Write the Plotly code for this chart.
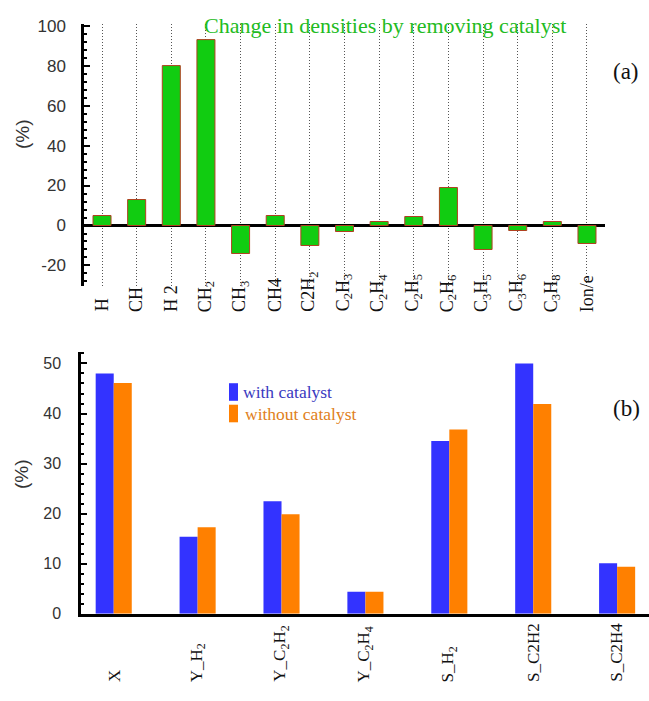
import plotly.graph_objects as go

# ---- data: panel (a) ----
species = ["H", "CH", "H 2", "CH<sub>2</sub>", "CH<sub>3</sub>", "CH4", "C2H<sub>2</sub>",
           "C<sub>2</sub>H<sub>3</sub>", "C<sub>2</sub>H<sub>4</sub>", "C<sub>2</sub>H<sub>5</sub>",
           "C<sub>2</sub>H<sub>6</sub>", "C<sub>3</sub>H<sub>5</sub>", "C<sub>3</sub>H<sub>6</sub>",
           "C<sub>3</sub>H<sub>8</sub>", "Ion/e"]
density_change = [5, 13, 80, 93, -14, 5, -10, -3, 2, 4.5, 19, -12, -2.5, 2, -9]

# ---- data: panel (b) ----
quantities = ["X", "Y_H<sub>2</sub>", "Y_C<sub>2</sub>H<sub>2</sub>", "Y_C<sub>2</sub>H<sub>4</sub>",
              "S_H<sub>2</sub>", "S_C2H2", "S_C2H4"]
with_catalyst = [48.0, 15.4, 22.5, 4.4, 34.5, 50.0, 10.1]
without_catalyst = [46.1, 17.3, 19.9, 4.4, 36.8, 41.9, 9.4]

W, H = 649, 701
def px(y):
    return 1 - y / H

SERIF = "Liberation Serif, Times New Roman, serif"
SANS = "Liberation Sans, Arial, sans-serif"

fig = go.Figure()
xa = list(range(len(species)))
fig.add_trace(go.Bar(x=xa, y=density_change, width=0.52,
                     marker=dict(color="#11cc11", line=dict(color="#b04020", width=1)),
                     xaxis="x", yaxis="y", showlegend=False))
xb = list(range(len(quantities)))
fig.add_trace(go.Bar(x=xb, y=with_catalyst, name="with catalyst",
                     marker=dict(color="#3333ff", line=dict(width=0)),
                     xaxis="x2", yaxis="y2", showlegend=False))
fig.add_trace(go.Bar(x=xb, y=without_catalyst, name="without catalyst",
                     marker=dict(color="#ff8000", line=dict(width=0)),
                     xaxis="x2", yaxis="y2", showlegend=False))

annotations = []
for i, lab in enumerate(species):
    annotations.append(dict(x=i, y=px(314), xref="x", yref="paper", text=lab, textangle=-90,
                            xanchor="center", yanchor="bottom", showarrow=False,
                            font=dict(family=SERIF, size=18, color="#111")))
for i, lab in enumerate(quantities):
    annotations.append(dict(x=i, y=px(693), xref="x2", yref="paper", text=lab, textangle=-90,
                            xanchor="center", yanchor="bottom", showarrow=False,
                            font=dict(family=SERIF, size=17, color="#111")))

annotations += [
    dict(x=385 / W, y=px(19), xref="paper", yref="paper", text="Change in densities by removing catalyst",
         showarrow=False, xanchor="center", yanchor="middle",
         font=dict(family=SERIF, size=22, color="#22bb22")),
    dict(x=626 / W, y=px(66), xref="paper", yref="paper", text="(a)", showarrow=False,
         xanchor="center", yanchor="middle", font=dict(family=SERIF, size=23, color="#111")),
    dict(x=626 / W, y=px(411), xref="paper", yref="paper", text="(b)", showarrow=False,
         xanchor="center", yanchor="middle", font=dict(family=SERIF, size=23, color="#111")),
    dict(x=22 / W, y=px(130), xref="paper", yref="paper", text="(%)", textangle=-90, showarrow=False,
         xanchor="center", yanchor="middle", font=dict(family=SANS, size=19, color="#333")),
    dict(x=21 / W, y=px(478), xref="paper", yref="paper", text="(%)", textangle=-90, showarrow=False,
         xanchor="center", yanchor="middle", font=dict(family=SANS, size=19, color="#333")),
    dict(x=241 / W, y=px(394), xref="paper", yref="paper", text="with catalyst", showarrow=False,
         xanchor="left", yanchor="middle", font=dict(family=SERIF, size=17.5, color="#3a3ac0")),
    dict(x=243 / W, y=px(416), xref="paper", yref="paper", text="without catalyst", showarrow=False,
         xanchor="left", yanchor="middle", font=dict(family=SERIF, size=17.5, color="#e08020")),
]

shapes = [
    dict(type="rect", xref="paper", yref="paper", x0=229 / W, x1=238 / W, y0=px(403), y1=px(385),
         fillcolor="#3333ff", line=dict(width=0)),
    dict(type="rect", xref="paper", yref="paper", x0=229 / W, x1=238 / W, y0=px(425), y1=px(407),
         fillcolor="#ff8000", line=dict(width=0)),
]

fig.update_layout(
    width=W, height=H, margin=dict(l=0, r=0, t=0, b=0), autosize=False,
    paper_bgcolor="white", plot_bgcolor="white",
    barmode="group", bargap=0.57, bargroupgap=0,
    annotations=annotations, shapes=shapes,
    xaxis=dict(domain=[84 / W, 605 / W], anchor="y", range=[-0.52, 14.52],
               showticklabels=False, ticks="", showline=False, zeroline=False,
               showgrid=True, gridcolor="#555", gridwidth=1, griddash="1px,2px",
               tickmode="array", tickvals=xa),
    yaxis=dict(domain=[px(286), px(17)], anchor="x", range=[-30.5, 101],
               tickmode="array", tickvals=[-20, 0, 20, 40, 60, 80, 100],
               ticktext=["-20", "0", "20", "40", "60", "80", "100"],
               ticks="inside", ticklen=6, tickwidth=2, tickcolor="black",
               minor=dict(dtick=4, tick0=0, ticks="inside", ticklen=3, tickwidth=1.5, tickcolor="black"),
               showline=True, linecolor="black", linewidth=2.5,
               showgrid=False, zeroline=True, zerolinecolor="black", zerolinewidth=2.5,
               ticklabelstandoff=12,
               tickfont=dict(family=SANS, size=17, color="#333")),
    xaxis2=dict(domain=[81 / W, 1.0], anchor="y2", range=[-0.39, 6.38],
                showticklabels=False, ticks="", showgrid=False, zeroline=False,
                showline=True, linecolor="black", linewidth=2.5),
    yaxis2=dict(domain=[px(621), px(353)], anchor="x2", range=[0, 52.3],
                tickmode="array", tickvals=[0, 10, 20, 30, 40, 50],
                ticks="inside", ticklen=6, tickwidth=2, tickcolor="black",
                minor=dict(dtick=2, tick0=0, ticks="inside", ticklen=3, tickwidth=1.5, tickcolor="black"),
                showline=True, linecolor="black", linewidth=2.5,
                showgrid=False, zeroline=False,
                ticklabelstandoff=14,
                tickfont=dict(family=SANS, size=16, color="#333")),
)

fig.write_html("out.html", config={"displayModeBar": False},
               post_script="document.body.style.margin='0';document.body.style.overflow='hidden';")
